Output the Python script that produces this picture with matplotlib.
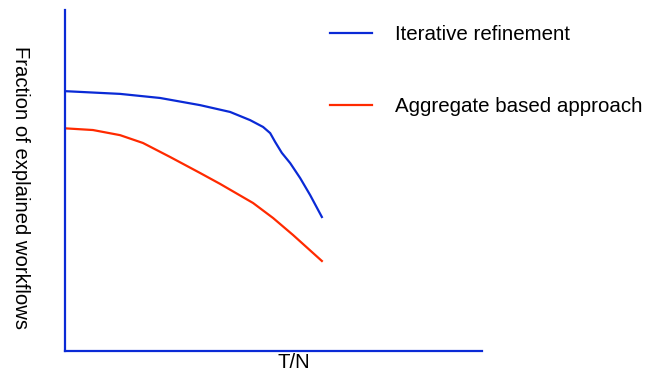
import matplotlib.pyplot as plt

plt.rcParams['font.family'] = ['Liberation Sans', 'DejaVu Sans']

# T/N (fraction of the x range) and fraction of explained workflows
x_iter = [0.0, 0.132, 0.228, 0.324, 0.396, 0.444, 0.475, 0.492, 0.504, 0.520, 0.540, 0.564, 0.588, 0.616]
y_iter = [0.762, 0.754, 0.742, 0.721, 0.701, 0.677, 0.657, 0.639, 0.613, 0.581, 0.551, 0.507, 0.457, 0.393]

x_aggr = [0.0, 0.067, 0.132, 0.187, 0.252, 0.324, 0.372, 0.451, 0.499, 0.547, 0.616]
y_aggr = [0.653, 0.648, 0.633, 0.610, 0.569, 0.522, 0.490, 0.434, 0.390, 0.340, 0.264]

labels = ['Iterative refinement', 'Aggregate based approach']

blue = '#0a2ad6'
red = '#ff2a00'

fig = plt.figure(figsize=(6.46, 3.73), dpi=100)
ax = fig.add_axes([65/646, 1 - 351/373, 417/646, 341/373])

ax.plot(x_iter, y_iter, color=blue, lw=1.6, solid_joinstyle='round', label=labels[0])
ax.plot(x_aggr, y_aggr, color=red, lw=1.6, solid_joinstyle='round', label=labels[1])

ax.set_xlim(0, 1)
ax.set_ylim(0, 1)
ax.set_xticks([])
ax.set_yticks([])
for s in ['top', 'right']:
    ax.spines[s].set_visible(False)
for s in ['left', 'bottom']:
    ax.spines[s].set_color(blue)
    ax.spines[s].set_linewidth(1.6)

fig.text(20/646, 1 - 188/373, 'Fraction of explained workflows', rotation=-90,
         ha='center', va='center', fontsize=14.6)
fig.text(294/646, 1 - 363/373, 'T/N', ha='center', va='center', fontsize=14.6)

fs = 14.8
px = fs * 100 / 72
fig.legend(loc='upper left', bbox_to_anchor=(330/646, 1 - 25/373), frameon=False,
           fontsize=fs, handlelength=42/px, handletextpad=23/px,
           labelspacing=(74 - px)/px, borderpad=0, borderaxespad=0)

fig.savefig('out.png', dpi=100)
